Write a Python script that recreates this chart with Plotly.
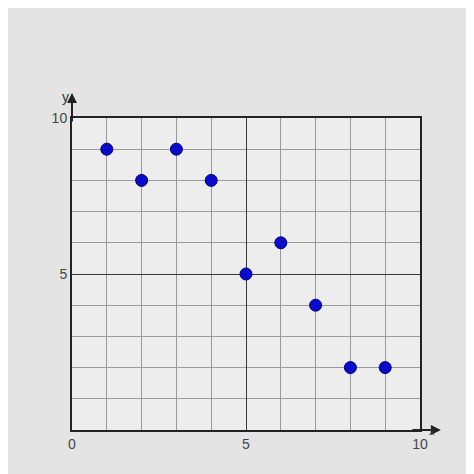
import plotly.graph_objects as go

# scatter points
x_vals = [1, 2, 3, 4, 5, 6, 7, 8, 9]
y_vals = [9, 8, 9, 8, 5, 6, 4, 2, 2]
x_ticks = [0, 5, 10]
y_ticks = [5, 10]

fig = go.Figure()
fig.add_trace(go.Scatter(
    x=x_vals, y=y_vals, mode="markers",
    marker=dict(size=12, color="#0a0acc", line=dict(color="#00007a", width=1)),
    showlegend=False,
))

axis_common = dict(
    range=[0, 10], showgrid=True, gridcolor="#3a3a3a", gridwidth=1.3,
    zeroline=False, showline=True, linecolor="#222222", linewidth=2,
    mirror=True, ticks="", tickfont=dict(family="Liberation Sans", size=14, color="#444444"),
    minor=dict(dtick=1, showgrid=True, gridcolor="#9a9a9a", gridwidth=1),
    fixedrange=True,
)

fig.update_xaxes(**axis_common, tickvals=x_ticks)
fig.update_yaxes(**axis_common, tickvals=y_ticks)

# axis arrows and letters
fig.add_annotation(x=0, y=1.08, xref="paper", yref="paper", ax=0, ay=30,
                   showarrow=True, arrowhead=2, arrowsize=1, arrowwidth=2,
                   arrowcolor="#222222", text="")
fig.add_annotation(x=1.06, y=0, xref="paper", yref="paper", ax=-30, ay=0,
                   showarrow=True, arrowhead=2, arrowsize=1, arrowwidth=2,
                   arrowcolor="#222222", text="")
fig.add_annotation(x=-0.035, y=1.1, xref="paper", yref="paper", text="y",
                   showarrow=False, font=dict(family="Liberation Sans", size=14, color="#333333"))
fig.add_annotation(x=1.05, y=-0.03, xref="paper", yref="paper", text="x",
                   showarrow=False, font=dict(family="Liberation Sans", size=11, color="#333333"))

fig.update_layout(
    width=474, height=474,
    margin=dict(l=64, r=62, t=110, b=52),
    paper_bgcolor="#e4e4e4",
    plot_bgcolor="#ededed",
)

fig.write_html("out.html")
